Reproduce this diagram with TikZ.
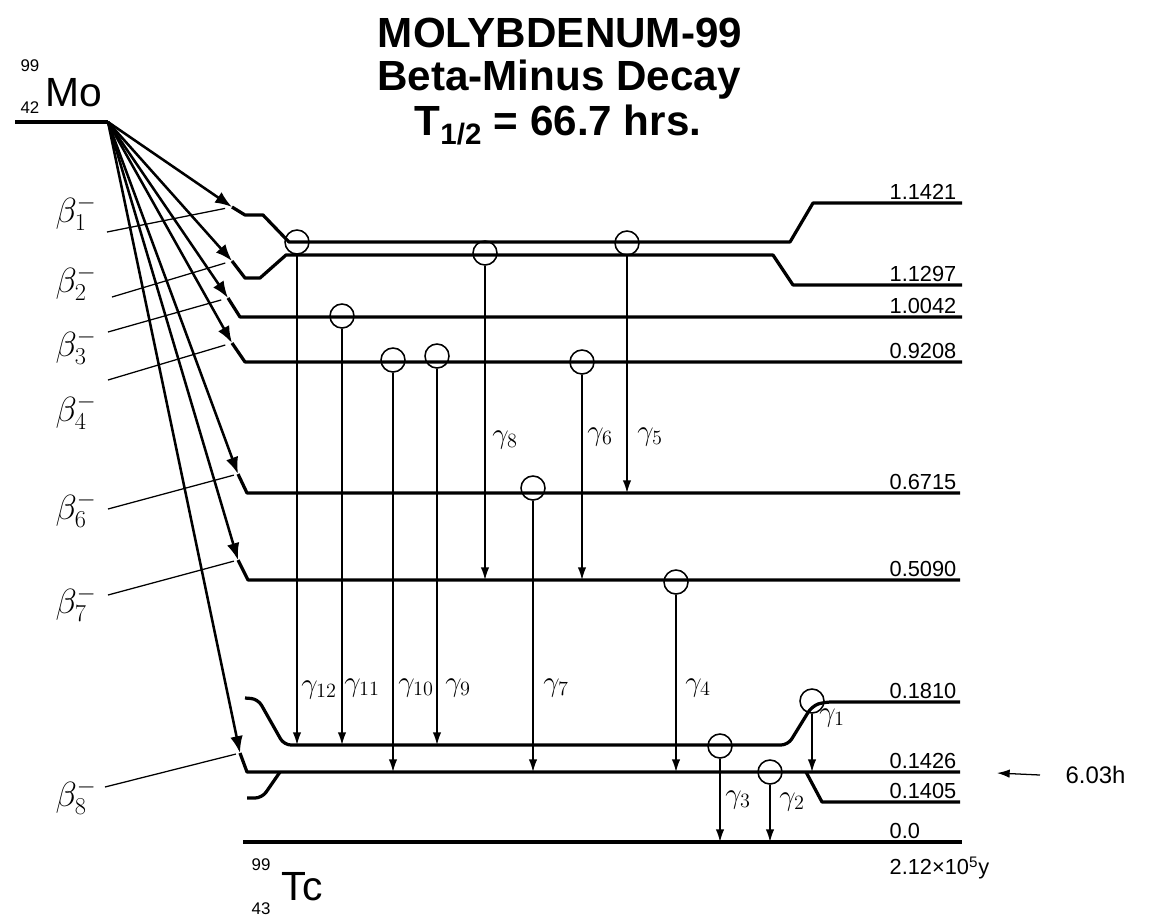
\documentclass[tikz,border=0pt]{standalone}
\usepackage{fontspec}
\setmainfont{Liberation Sans}
\usetikzlibrary{arrows.meta}

\begin{document}
\begin{tikzpicture}[x=0.025cm, y=-0.025cm,
  level/.style={line width=2.3pt, line join=round},
  beta/.style={line width=1.8pt, -{Latex[length=12pt,width=9pt]}},
  gam/.style={line width=1.1pt, -{Latex[length=9pt,width=6pt]}},
  ring/.style={circle, draw, line width=1.1pt, minimum size=0.6cm, inner sep=0pt},
  lead/.style={line width=0.9pt},
  elab/.style={anchor=south west, inner sep=1pt, font=\fontsize{15.5}{15.5}\selectfont},
  glab/.style={font=\fontsize{22}{22}\selectfont},
  blab/.style={font=\fontsize{26}{26}\selectfont},
  ttl/.style={font=\fontsize{30}{30}\selectfont\bfseries}]
\useasboundingbox (0,0) rectangle (1175,917);

% title
\node[ttl] (ttl1) at (560,33) {MOLYBDENUM-99};
\node[ttl] (ttl2) at (559,80) {Beta-Minus Decay};
\node[ttl] (ttl3) at (558,125) {T\textsubscript{1/2} = 66.7 hrs.};

% parent
\node[font=\fontsize{12}{12}\selectfont] (moA) at (30,66) {99};
\node[font=\fontsize{12}{12}\selectfont] (moZ) at (30,108) {42};
\node[font=\fontsize{29}{29}\selectfont] (mo) at (74,93) {Mo};
\coordinate (mo0) at (108,122);
\draw[level] (15,122) -- (mo0);

% beta arrow tips
\coordinate (b1) at (232,207);
\coordinate (b2) at (232,261);
\coordinate (b3) at (228,298);
\coordinate (b4) at (232,343);
\coordinate (b6) at (238,474);
\coordinate (b7) at (238,560);
\coordinate (b8) at (240,753);

% levels
\draw[level] (b1) -- (245,215) -- (263,215) -- (289,242) -- (790,242) -- (813,203) -- (962,203);
\draw[level] (b2) -- (245,278) -- (260,278) -- (286,255) -- (773,255) -- (793,285) -- (962,285);
\draw[level] (b3) -- (240,317) -- (962,317);
\draw[level] (b4) -- (245,362) -- (962,362);
\draw[level] (b6) -- (247,493) -- (960,493);
\draw[level] (b7) -- (248,580) -- (960,580);
\draw[level] (b8) -- (247,772) -- (960,772);
\draw[level, rounded corners=5pt] (245,698) -- (258,699) -- (284,745) -- (788,745) -- (812,706) -- (824,702) -- (960,702);
\draw[level, rounded corners=5pt] (247,798) -- (262,798) -- (280,772);
\draw[level] (806,772) -- (822,802) -- (960,802);
\draw[level] (243,842) -- (962,842);

% beta transitions
\draw[beta] (mo0) -- (b1);
\draw[beta] (mo0) -- (b2);
\draw[beta] (mo0) -- (b3);
\draw[beta] (mo0) -- (b4);
\draw[beta] (mo0) -- (b6);
\draw[beta] (mo0) -- (b7);
\draw[beta] (mo0) -- (b8);

% beta labels
\node[blab] (lb1) at (76,213) {$\beta^-_1$};
\node[blab] (lb2) at (76,283) {$\beta^-_2$};
\node[blab] (lb3) at (76,347) {$\beta^-_3$};
\node[blab] (lb4) at (76,412) {$\beta^-_4$};
\node[blab] (lb6) at (76,510) {$\beta^-_6$};
\node[blab] (lb7) at (76,604) {$\beta^-_7$};
\node[blab] (lb8) at (76,797) {$\beta^-_8$};
\coordinate (lb1e) at (107,232);
\coordinate (lb2e) at (112,297);
\coordinate (lb3e) at (108,332);
\coordinate (lb4e) at (108,380);
\coordinate (lb6e) at (108,509);
\coordinate (lb7e) at (108,595);
\coordinate (lb8e) at (105,787);
\draw[lead, shorten >=5pt] (lb1e) -- (b1);
\draw[lead, shorten >=5pt] (lb2e) -- (b2);
\draw[lead, shorten >=5pt] (lb3e) -- (b3);
\draw[lead, shorten >=5pt] (lb4e) -- (b4);
\draw[lead, shorten >=3pt] (lb6e) -- (b6);
\draw[lead, shorten >=3pt] (lb7e) -- (b7);
\draw[lead, shorten >=3pt] (lb8e) -- (b8);

% gamma transitions
\node[ring] (c12) at (297,242) {};
\node[ring] (c11) at (342,316) {};
\node[ring] (c10) at (393,360) {};
\node[ring] (c9) at (437,356) {};
\node[ring] (c8) at (485,253) {};
\node[ring] (c7) at (533,488) {};
\node[ring] (c6) at (582,362) {};
\node[ring] (c5) at (627,243) {};
\node[ring] (c4) at (676,582) {};
\node[ring] (c3) at (720,746) {};
\node[ring] (c2) at (770,772) {};
\node[ring] (c1) at (812,701) {};
\draw[gam] (c12) -- (297,745);
\draw[gam] (c11) -- (342,745);
\draw[gam] (c10) -- (393,772);
\draw[gam] (c9) -- (437,745);
\draw[gam] (c8) -- (485,580);
\draw[gam] (c7) -- (533,772);
\draw[gam] (c6) -- (582,580);
\draw[gam] (c5) -- (627,493);
\draw[gam] (c4) -- (676,772);
\draw[gam] (c3) -- (720,842);
\draw[gam] (c2) -- (770,842);
\draw[gam] (c1) -- (812,772);

% gamma labels
\node[glab] (g12) at (319,690) {$\gamma_{12}$};
\node[glab] (g11) at (362,688) {$\gamma_{11}$};
\node[glab] (g10) at (416,688) {$\gamma_{10}$};
\node[glab] (g9) at (458,688) {$\gamma_{9}$};
\node[glab] (g8) at (505,440) {$\gamma_{8}$};
\node[glab] (g7) at (556,688) {$\gamma_{7}$};
\node[glab] (g6) at (600,437) {$\gamma_{6}$};
\node[glab] (g5) at (650,437) {$\gamma_{5}$};
\node[glab] (g4) at (698,688) {$\gamma_{4}$};
\node[glab] (g3) at (738,800) {$\gamma_{3}$};
\node[glab] (g2) at (792,802) {$\gamma_{2}$};
\node[glab] (g1) at (832,718) {$\gamma_{1}$};

% energies (MeV)
\node[elab] (e1) at (888,201) {1.1421};
\node[elab] (e2) at (888,283) {1.1297};
\node[elab] (e3) at (888,315) {1.0042};
\node[elab] (e4) at (888,360) {0.9208};
\node[elab] (e6) at (888,491) {0.6715};
\node[elab] (e7) at (888,578) {0.5090};
\node[elab] (e8) at (888,700) {0.1810};
\node[elab] (e9) at (888,770) {0.1426};
\node[elab] (e10) at (888,800) {0.1405};
\node[elab] (e0) at (888,840) {0.0};
\node[elab, anchor=north west] (tcT) at (888,855) {2.12×10\textsuperscript{5}y};

% metastable state
\node[font=\fontsize{17}{17}\selectfont, anchor=west, inner sep=1pt] (half) at (1064,775) {6.03h};
\coordinate (hl) at (997,773);
\draw[lead, -{Latex[length=9pt,width=6pt]}] ([xshift=-0.6cm]half.west) -- (hl);

% daughter
\node[font=\fontsize{12}{12}\selectfont] (tcA) at (261,865) {99};
\node[font=\fontsize{12}{12}\selectfont] (tcZ) at (261,909) {43};
\node[font=\fontsize{29}{29}\selectfont] (tc) at (302,887) {Tc};
\end{tikzpicture}
\end{document}
